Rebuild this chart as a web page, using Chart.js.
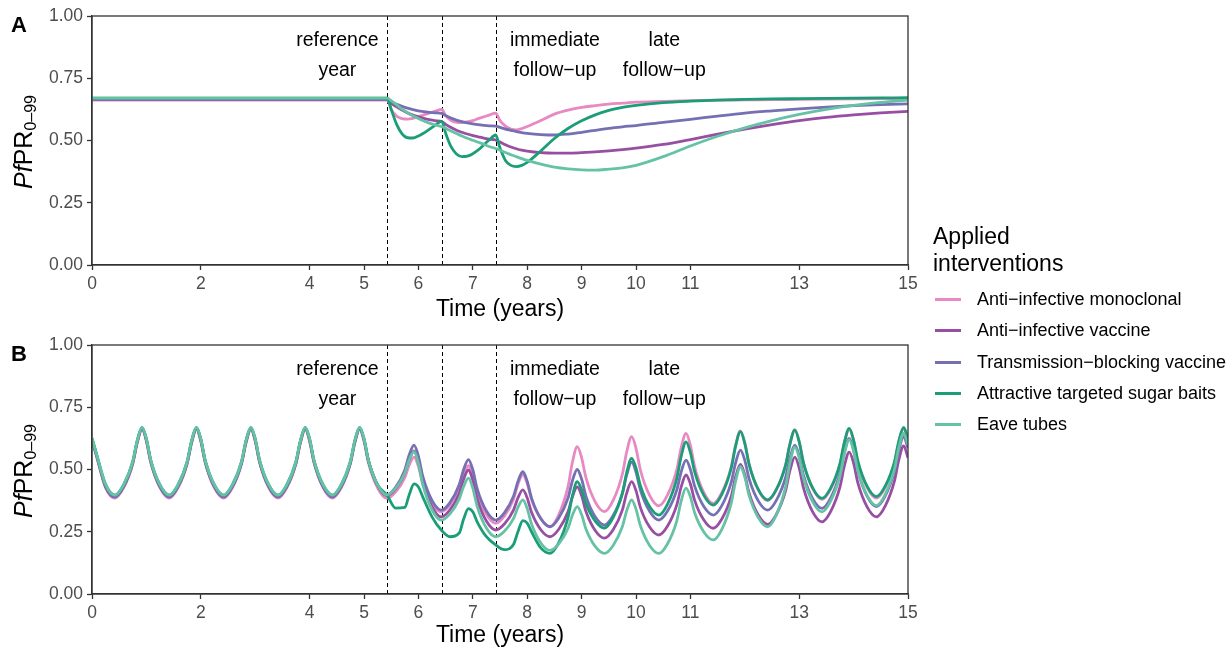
<!DOCTYPE html>
<html>
<head>
<meta charset="utf-8">
<script src="https://cdn.jsdelivr.net/npm/chart.js@4.4.1/dist/chart.umd.min.js"></script>
<style>
  html, body { margin: 0; padding: 0; background: #fff; }
  body { width: 1226px; height: 649px; position: relative; overflow: hidden;
         font-family: "Liberation Sans", Arial, Helvetica, sans-serif; }
  #wrapA { position: absolute; left: 0; top: 0; width: 1226px; height: 329px; }
  #wrapB { position: absolute; left: 0; top: 329px; width: 1226px; height: 320px; }
  .lt { position: absolute; left: 933px; top: 223px; font-size: 23px; line-height: 27px; color: #000; }
  .li { position: absolute; left: 935px; width: 291px; height: 31px; font-size: 18px; line-height: 31px; color: #000; white-space: nowrap; }
  .li .sw { position: absolute; left: 0; top: 14px; width: 26px; height: 3px; }
  .li .tx { position: absolute; left: 42px; top: 0; }
</style>
</head>
<body>
<div id="wrapA"><canvas id="chartA" width="1226" height="329"></canvas></div>
<div id="wrapB"><canvas id="chartB" width="1226" height="320"></canvas></div>
<div id="legend"></div>
<script>
// ---------------- DATA ----------------
const seriesNames = [
  "Anti\u2212infective monoclonal",
  "Anti\u2212infective vaccine",
  "Transmission\u2212blocking vaccine",
  "Attractive targeted sugar baits",
  "Eave tubes"
];
const seriesColors = ["#E78AC3", "#984EA3", "#7570B3", "#1B9E77", "#66C2A5"];

const xTicks = [0, 2, 4, 5, 6, 7, 8, 9, 10, 11, 13, 15];
const yTicks = [0, 0.25, 0.5, 0.75, 1];
const interventionTimes = [5.43, 6.43, 7.42];
const periodLabels = [
  { x: 4.51, lines: ["reference", "year"] },
  { x: 8.51, lines: ["immediate", "follow\u2212up"] },
  { x: 10.52, lines: ["late", "follow\u2212up"] }
];

// Panel A (annual average PfPR)
const timesA = [0, 1, 2, 3, 4, 5,
  5.43, 5.5, 5.6, 5.7, 5.8, 5.9, 6.0, 6.1, 6.2, 6.3,
  6.43, 6.5, 6.6, 6.7, 6.8, 6.9, 7.0, 7.1, 7.2, 7.3,
  7.42, 7.5, 7.6, 7.7, 7.8, 7.9, 8.0,
  8.25, 8.5, 8.75, 9.0, 9.25, 9.5, 9.75,
  10, 10.5, 11, 11.5, 12, 12.5, 13, 13.5, 14, 14.5, 15];

const aimA = [0.662, 0.662, 0.662, 0.662, 0.662, 0.662,
  0.662, 0.625, 0.598, 0.588, 0.586, 0.589, 0.596, 0.603, 0.610, 0.617,
  0.625, 0.600, 0.580, 0.573, 0.572, 0.575, 0.580, 0.588, 0.595, 0.602,
  0.610, 0.580, 0.558, 0.546, 0.543, 0.548, 0.556,
  0.580, 0.606, 0.622, 0.633, 0.640, 0.646, 0.650,
  0.654, 0.657, 0.660, 0.662, 0.663, 0.664, 0.665, 0.666, 0.667, 0.668, 0.668];

const aivA = [0.665, 0.665, 0.665, 0.665, 0.665, 0.665,
  0.665, 0.650, 0.635, 0.622, 0.611, 0.602, 0.595, 0.589, 0.584, 0.580,
  0.576, 0.565, 0.552, 0.541, 0.533, 0.526, 0.520, 0.515, 0.510, 0.506,
  0.502, 0.494, 0.483, 0.474, 0.467, 0.461, 0.457,
  0.451, 0.449, 0.449, 0.451, 0.454, 0.458, 0.463,
  0.469, 0.484, 0.504, 0.526, 0.546, 0.564, 0.580, 0.593, 0.603, 0.611, 0.617];

const tbvA = [0.665, 0.665, 0.665, 0.665, 0.665, 0.665,
  0.665, 0.655, 0.645, 0.637, 0.630, 0.624, 0.619, 0.616, 0.613, 0.611,
  0.609, 0.600, 0.590, 0.582, 0.576, 0.571, 0.567, 0.564, 0.561, 0.559,
  0.558, 0.553, 0.546, 0.541, 0.536, 0.532, 0.529,
  0.524, 0.522, 0.526, 0.533, 0.541, 0.549, 0.555,
  0.560, 0.573, 0.585, 0.598, 0.610, 0.619, 0.627, 0.634, 0.640, 0.644, 0.647];

const atsbA = [0.670, 0.670, 0.670, 0.670, 0.670, 0.670,
  0.670, 0.625, 0.565, 0.527, 0.511, 0.510, 0.518, 0.530, 0.545, 0.560,
  0.577, 0.530, 0.475, 0.446, 0.435, 0.437, 0.447, 0.462, 0.482, 0.502,
  0.522, 0.470, 0.420, 0.400, 0.395, 0.400, 0.412,
  0.458, 0.508, 0.548, 0.579, 0.603, 0.621, 0.633,
  0.641, 0.652, 0.658, 0.662, 0.665, 0.667, 0.668, 0.669, 0.670, 0.671, 0.672];

const eaveA = [0.670, 0.670, 0.670, 0.670, 0.670, 0.670,
  0.670, 0.660, 0.643, 0.626, 0.612, 0.599, 0.588, 0.578, 0.570, 0.563,
  0.556, 0.549, 0.538, 0.528, 0.518, 0.509, 0.501, 0.493, 0.485, 0.476,
  0.468, 0.461, 0.452, 0.443, 0.435, 0.427, 0.420,
  0.405, 0.393, 0.386, 0.382, 0.381, 0.385, 0.390,
  0.400, 0.435, 0.478, 0.517, 0.551, 0.580, 0.605, 0.625, 0.641, 0.653, 0.662];

// Panel B (seasonal PfPR)
const timesB = [
  0, 0.08, 0.25, 0.42, 0.58, 0.75, 0.83, 0.92,
  1, 1.08, 1.25, 1.42, 1.58, 1.75, 1.83, 1.92,
  2, 2.08, 2.25, 2.42, 2.58, 2.75, 2.83, 2.92,
  3, 3.08, 3.25, 3.42, 3.58, 3.75, 3.83, 3.92,
  4, 4.08, 4.25, 4.42, 4.58, 4.75, 4.83, 4.92,
  5, 5.08, 5.25, 5.42, 5.58, 5.75, 5.83, 5.92,
  6, 6.08, 6.25, 6.42, 6.58, 6.75, 6.83, 6.92,
  7, 7.08, 7.25, 7.42, 7.58, 7.75, 7.83, 7.92,
  8, 8.08, 8.25, 8.42, 8.58, 8.75, 8.83, 8.92,
  9, 9.08, 9.25, 9.42, 9.58, 9.75, 9.83, 9.92,
  10, 10.08, 10.25, 10.42, 10.58, 10.75, 10.83, 10.92,
  11, 11.08, 11.25, 11.42, 11.58, 11.75, 11.83, 11.92,
  12, 12.08, 12.25, 12.42, 12.58, 12.75, 12.83, 12.92,
  13, 13.08, 13.25, 13.42, 13.58, 13.75, 13.83, 13.92,
  14, 14.08, 14.25, 14.42, 14.58, 14.75, 14.83, 14.92,
  15];

const aimB = [
  0.615, 0.555, 0.426, 0.385, 0.426, 0.523, 0.605, 0.660,
  0.613, 0.528, 0.426, 0.385, 0.426, 0.523, 0.605, 0.660,
  0.613, 0.528, 0.426, 0.385, 0.426, 0.523, 0.605, 0.660,
  0.613, 0.528, 0.426, 0.385, 0.426, 0.523, 0.605, 0.660,
  0.613, 0.528, 0.426, 0.385, 0.426, 0.523, 0.605, 0.660,
  0.613, 0.528, 0.426, 0.384, 0.409, 0.467, 0.517, 0.550,
  0.513, 0.444, 0.363, 0.330, 0.358, 0.423, 0.478, 0.515,
  0.476, 0.404, 0.319, 0.284, 0.313, 0.382, 0.441, 0.480,
  0.444, 0.379, 0.302, 0.270, 0.318, 0.431, 0.528, 0.592,
  0.548, 0.467, 0.370, 0.331, 0.376, 0.482, 0.572, 0.632,
  0.585, 0.499, 0.396, 0.354, 0.398, 0.500, 0.587, 0.645,
  0.597, 0.510, 0.406, 0.364, 0.408, 0.510, 0.597, 0.655,
  0.607, 0.521, 0.417, 0.375, 0.418, 0.518, 0.603, 0.660,
  0.612, 0.526, 0.422, 0.380, 0.422, 0.521, 0.606, 0.662,
  0.615, 0.529, 0.427, 0.385, 0.427, 0.525, 0.609, 0.665,
  0.618];

const aivB = [
  0.620, 0.560, 0.431, 0.390, 0.431, 0.528, 0.610, 0.665,
  0.618, 0.533, 0.431, 0.390, 0.431, 0.528, 0.610, 0.665,
  0.618, 0.533, 0.431, 0.390, 0.431, 0.528, 0.610, 0.665,
  0.618, 0.533, 0.431, 0.390, 0.431, 0.528, 0.610, 0.665,
  0.618, 0.533, 0.431, 0.390, 0.431, 0.528, 0.610, 0.665,
  0.620, 0.537, 0.436, 0.395, 0.422, 0.485, 0.539, 0.575,
  0.530, 0.448, 0.350, 0.310, 0.338, 0.404, 0.460, 0.498,
  0.457, 0.382, 0.293, 0.257, 0.281, 0.338, 0.386, 0.418,
  0.386, 0.328, 0.258, 0.230, 0.260, 0.330, 0.390, 0.430,
  0.395, 0.331, 0.255, 0.224, 0.258, 0.338, 0.406, 0.451,
  0.415, 0.348, 0.269, 0.237, 0.273, 0.358, 0.430, 0.478,
  0.442, 0.375, 0.296, 0.264, 0.302, 0.392, 0.469, 0.520,
  0.479, 0.405, 0.316, 0.280, 0.320, 0.415, 0.496, 0.550,
  0.506, 0.425, 0.329, 0.290, 0.332, 0.430, 0.514, 0.570,
  0.526, 0.445, 0.349, 0.310, 0.353, 0.453, 0.538, 0.595,
  0.547];

const tbvB = [
  0.620, 0.560, 0.431, 0.390, 0.431, 0.528, 0.610, 0.665,
  0.618, 0.533, 0.431, 0.390, 0.431, 0.528, 0.610, 0.665,
  0.618, 0.533, 0.431, 0.390, 0.431, 0.528, 0.610, 0.665,
  0.618, 0.533, 0.431, 0.390, 0.431, 0.528, 0.610, 0.665,
  0.618, 0.533, 0.431, 0.390, 0.431, 0.528, 0.610, 0.665,
  0.620, 0.537, 0.438, 0.398, 0.428, 0.498, 0.558, 0.598,
  0.554, 0.473, 0.376, 0.337, 0.367, 0.439, 0.499, 0.540,
  0.499, 0.423, 0.333, 0.297, 0.326, 0.394, 0.452, 0.491,
  0.453, 0.385, 0.303, 0.270, 0.305, 0.385, 0.454, 0.500,
  0.462, 0.393, 0.310, 0.277, 0.315, 0.404, 0.479, 0.530,
  0.490, 0.418, 0.332, 0.297, 0.333, 0.418, 0.490, 0.538,
  0.500, 0.432, 0.350, 0.317, 0.356, 0.448, 0.526, 0.578,
  0.537, 0.462, 0.373, 0.337, 0.376, 0.468, 0.546, 0.598,
  0.555, 0.476, 0.382, 0.344, 0.386, 0.485, 0.569, 0.625,
  0.578, 0.493, 0.392, 0.351, 0.393, 0.492, 0.576, 0.632,
  0.585];

const atsbB = [
  0.626, 0.565, 0.440, 0.397, 0.438, 0.533, 0.615, 0.669,
  0.623, 0.538, 0.438, 0.397, 0.438, 0.533, 0.615, 0.669,
  0.623, 0.538, 0.438, 0.397, 0.438, 0.533, 0.615, 0.669,
  0.623, 0.538, 0.438, 0.397, 0.438, 0.533, 0.615, 0.669,
  0.623, 0.538, 0.438, 0.397, 0.438, 0.533, 0.615, 0.669,
  0.623, 0.538, 0.438, 0.398, 0.345, 0.348, 0.398, 0.442,
  0.430, 0.390, 0.310, 0.257, 0.230, 0.245, 0.300, 0.343,
  0.330, 0.290, 0.230, 0.197, 0.178, 0.200, 0.250, 0.295,
  0.285, 0.250, 0.185, 0.163, 0.206, 0.307, 0.393, 0.451,
  0.419, 0.362, 0.293, 0.265, 0.307, 0.405, 0.489, 0.545,
  0.506, 0.436, 0.351, 0.317, 0.361, 0.464, 0.552, 0.611,
  0.568, 0.489, 0.395, 0.357, 0.401, 0.505, 0.593, 0.652,
  0.605, 0.520, 0.419, 0.378, 0.420, 0.518, 0.602, 0.658,
  0.611, 0.526, 0.425, 0.384, 0.426, 0.525, 0.609, 0.665,
  0.618, 0.533, 0.432, 0.391, 0.433, 0.530, 0.613, 0.669,
  0.625];

const eaveB = [
  0.626, 0.565, 0.440, 0.397, 0.438, 0.533, 0.615, 0.669,
  0.623, 0.538, 0.438, 0.397, 0.438, 0.533, 0.615, 0.669,
  0.623, 0.538, 0.438, 0.397, 0.438, 0.533, 0.615, 0.669,
  0.623, 0.538, 0.438, 0.397, 0.438, 0.533, 0.615, 0.669,
  0.623, 0.538, 0.438, 0.397, 0.438, 0.533, 0.615, 0.669,
  0.623, 0.538, 0.438, 0.398, 0.424, 0.485, 0.537, 0.572,
  0.525, 0.440, 0.338, 0.297, 0.322, 0.381, 0.431, 0.465,
  0.425, 0.352, 0.265, 0.230, 0.252, 0.304, 0.348, 0.378,
  0.343, 0.281, 0.205, 0.175, 0.201, 0.263, 0.316, 0.351,
  0.319, 0.261, 0.191, 0.163, 0.195, 0.271, 0.335, 0.378,
  0.341, 0.275, 0.195, 0.163, 0.202, 0.294, 0.373, 0.425,
  0.390, 0.325, 0.248, 0.217, 0.261, 0.364, 0.452, 0.511,
  0.470, 0.395, 0.306, 0.270, 0.318, 0.430, 0.526, 0.590,
  0.546, 0.465, 0.369, 0.330, 0.374, 0.475, 0.562, 0.620,
  0.575, 0.493, 0.395, 0.355, 0.399, 0.500, 0.587, 0.645,
  0.600];

const panelAValues = [aimA, aivA, tbvA, atsbA, eaveA];
const panelBValues = [aimB, aivB, tbvB, atsbB, eaveB];

// ---------------- RENDERING ----------------
const FONT = '"Liberation Sans", Arial, Helvetica, sans-serif';
Chart.defaults.font.family = FONT;

const decor = {
  id: 'decor',
  beforeDatasetsDraw(chart, args, opts) {
    const ctx = chart.ctx, xs = chart.scales.x, ys = chart.scales.y, a = chart.chartArea;
    ctx.save();
    ctx.strokeStyle = '#000';
    ctx.lineWidth = 1;
    ctx.setLineDash([4, 3]);
    interventionTimes.forEach(t => {
      const px = Math.round(xs.getPixelForValue(t)) + 0.5;
      ctx.beginPath(); ctx.moveTo(px, a.top); ctx.lineTo(px, a.bottom); ctx.stroke();
    });
    ctx.setLineDash([]);
    ctx.fillStyle = '#000';
    ctx.font = '19.5px ' + FONT;
    ctx.textAlign = 'center';
    ctx.textBaseline = 'alphabetic';
    periodLabels.forEach(p => {
      const px = xs.getPixelForValue(p.x);
      ctx.fillText(p.lines[0], px, ys.getPixelForValue(0.88));
      ctx.fillText(p.lines[1], px, ys.getPixelForValue(0.759));
    });
    ctx.restore();
  },
  afterDraw(chart, args, opts) {
    const ctx = chart.ctx, a = chart.chartArea;
    ctx.save();
    ctx.strokeStyle = '#333';
    ctx.lineWidth = 1.3;
    ctx.strokeRect(a.left, a.top, a.right - a.left, a.bottom - a.top);
    ctx.fillStyle = '#000';
    ctx.font = 'bold 22px ' + FONT;
    ctx.textAlign = 'left';
    ctx.textBaseline = 'alphabetic';
    ctx.fillText(opts.tag, 11, 32);
    const cy = (a.top + a.bottom) / 2 + 1.5;
    ctx.translate(0, cy);
    ctx.rotate(-Math.PI / 2);
    const fIt = 'italic 25px ' + FONT, fMain = '25px ' + FONT, fSub = '16px ' + FONT;
    ctx.font = fIt; const w1 = ctx.measureText('Pf').width;
    ctx.font = fMain; const w2 = ctx.measureText('PR').width;
    ctx.font = fSub; const w3 = ctx.measureText('0\u201399').width;
    let x = -(w1 + w2 + w3) / 2;
    ctx.font = fIt; ctx.fillText('Pf', x, 32); x += w1;
    ctx.font = fMain; ctx.fillText('PR', x, 32); x += w2;
    ctx.font = fSub; ctx.fillText('0\u201399', x, 35.5);
    ctx.restore();
  }
};

function makeChart(canvasId, times, valueSets, tag, canvasH, titlePadBottom) {
  const datasets = valueSets.map((vals, i) => ({
    label: seriesNames[i],
    data: times.map((t, k) => ({ x: t, y: vals[k] })),
    borderColor: seriesColors[i],
    backgroundColor: seriesColors[i],
    borderWidth: 2.8,
    pointRadius: 0,
    fill: false,
    cubicInterpolationMode: 'monotone',
    order: valueSets.length - i
  }));
  return new Chart(document.getElementById(canvasId), {
    type: 'line',
    data: { datasets },
    options: {
      responsive: false,
      animation: false,
      devicePixelRatio: 1,
      layout: { padding: { left: 0, right: 318, top: 16, bottom: 0 } },
      plugins: { legend: { display: false }, tooltip: { enabled: false }, decor: { tag } },
      scales: {
        x: {
          type: 'linear', min: 0, max: 15,
          afterBuildTicks: s => { s.ticks = xTicks.map(v => ({ value: v })); },
          afterFit: s => { s.height = canvasH - 265; },
          ticks: { autoSkip: false, maxRotation: 0, color: '#4d4d4d', font: { size: 17.5 }, padding: 4,
                   callback: v => String(v) },
          grid: { display: true, drawOnChartArea: false, drawTicks: true, tickLength: 5, tickColor: '#333', tickWidth: 1.3 },
          border: { display: true, color: '#333', width: 1.3 },
          title: { display: true, text: 'Time (years)', color: '#000', font: { size: 23 }, padding: { top: 0, bottom: titlePadBottom } }
        },
        y: {
          type: 'linear', min: 0, max: 1,
          afterBuildTicks: s => { s.ticks = yTicks.map(v => ({ value: v })); },
          afterFit: s => { s.width = 92; },
          ticks: { color: '#4d4d4d', font: { size: 17.5 }, padding: 4, callback: v => v.toFixed(2) },
          grid: { display: true, drawOnChartArea: false, drawTicks: true, tickLength: 5, tickColor: '#333', tickWidth: 1.3 },
          border: { display: true, color: '#333', width: 1.3 }
        }
      }
    },
    plugins: [decor]
  });
}

makeChart('chartA', timesA, panelAValues, 'A', 329, 6);
makeChart('chartB', timesB, panelBValues, 'B', 320, 0);

// legend (HTML text)
const leg = document.getElementById('legend');
const title = document.createElement('div');
title.className = 'lt';
title.innerHTML = 'Applied<br>interventions';
leg.appendChild(title);
seriesNames.forEach((name, i) => {
  const d = document.createElement('div');
  d.className = 'li';
  d.style.top = (284 + i * 31.25) + 'px';
  const sw = document.createElement('span');
  sw.className = 'sw'; sw.style.background = seriesColors[i];
  const tx = document.createElement('span');
  tx.className = 'tx'; tx.textContent = name;
  d.appendChild(sw); d.appendChild(tx);
  leg.appendChild(d);
});
</script>
</body>
</html>
